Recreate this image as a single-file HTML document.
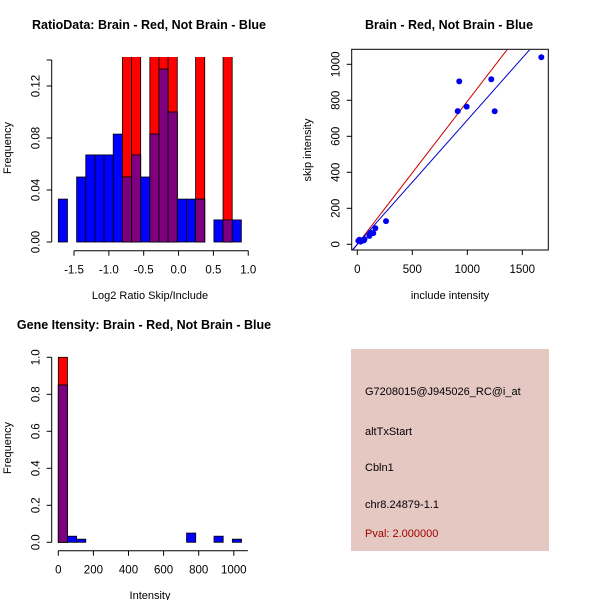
<!DOCTYPE html>
<html><head><meta charset="utf-8"><style>
body{margin:0;background:#fff}
svg{display:block;font-family:"Liberation Sans",sans-serif}
</style></head><body>
<svg id="s" width="600" height="600" xmlns="http://www.w3.org/2000/svg">
<defs><clipPath id="c1"><rect x="40" y="57" width="220" height="200"/></clipPath>
<clipPath id="c2"><rect x="352" y="50" width="196" height="200"/></clipPath></defs>
<text x="149" y="29" font-size="12.5" font-weight="bold" text-anchor="middle">RatioData: Brain - Red, Not Brain - Blue</text>
<text x="150" y="299" font-size="11" text-anchor="middle">Log2 Ratio Skip/Include</text>
<text transform="translate(11,148) rotate(-90)" font-size="11" text-anchor="middle">Frequency</text>
<g id="h1" clip-path="url(#c1)"></g>
<g id="h1ax"></g>
<text x="449" y="29" font-size="12.5" font-weight="bold" text-anchor="middle">Brain - Red, Not Brain - Blue</text>
<text x="450" y="299" font-size="11" text-anchor="middle">include intensity</text>
<text transform="translate(311,150) rotate(-90)" font-size="11" text-anchor="middle">skip intensity</text>
<rect x="351.7" y="49.3" width="196.6" height="200.7" fill="none" stroke="#000"/>
<g id="sc"></g>
<text x="144" y="329" font-size="12.5" font-weight="bold" text-anchor="middle">Gene Itensity: Brain - Red, Not Brain - Blue</text>
<text x="150" y="599" font-size="11" text-anchor="middle">Intensity</text>
<text transform="translate(11,448) rotate(-90)" font-size="11" text-anchor="middle">Frequency</text>
<g id="h2"></g>
<rect x="351" y="349" width="198" height="202" fill="#e5c8c2"/>
<g font-size="11">
<text x="365" y="395">G7208015@J945026_RC@i_at</text>
<text x="365" y="435">altTxStart</text>
<text x="365" y="471">Cbln1</text>
<text x="365" y="508">chr8.24879-1.1</text>
<text x="365" y="537" fill="#a00000">Pval: 2.000000</text>
</g>
</svg>
<script>
const NS="http://www.w3.org/2000/svg";
const ratioStart=-1.725, ratioStep=0.1313;
const ratioBlue=[0.033,0,0.05,0.067,0.067,0.067,0.083,0.05,0.067,0.05,0.083,0.133,0.1,0.033,0.033,0.033,0,0.017,0.017,0.017];
const ratioRed=[0,0,0,0,0,0,0,0.2,0.2,0,0.2,0.2,0.2,0,0,0.2,0,0,0.2,0];
const ratioXTicks=[-1.5,-1.0,-0.5,0.0,0.5,1.0];
const ratioYTicks=[0,0.04,0.08,0.12];
const ratioYLabels=["0.00","0.04","0.08","0.12"];
const intStep=52.2;
const intBlue=[0.85,0.033,0.017,0,0,0,0,0,0,0,0,0,0,0,0.05,0,0,0.033,0,0.017];
const intRed=[1.0,0,0,0,0,0,0,0,0,0,0,0,0,0,0,0,0,0,0,0];
const intXTicks=[0,200,400,600,800,1000];
const intYTicks=[0,0.2,0.4,0.6,0.8,1.0];
const scX=[10,15,20,30,40,60,65,110,120,145,164,261,913,927,994,1218,1249,1673];
const scY=[20,18,25,15,20,22,28,47,65,62,89,129,740,905,765,917,739,1039];
const scXTicks=[0,500,1000,1500];
const scYTicks=[0,200,400,600,800,1000];
const redSlope=0.794, blueSlope=0.69;

function el(p,t,a){const e=document.createElementNS(NS,t);for(const k in a)e.setAttribute(k,a[k]);p.appendChild(e);return e;}
function hist(g,ax,start,step,blue,red,xs,ys,xTicks,yTicks,xLabels,yLabels,axisY,axLeft,prefix){
  for(let i=0;i<blue.length;i++){
    const x0=xs(start+i*step),x1=xs(start+(i+1)*step);
    const r=red[i],b=blue[i],m=Math.min(r,b);
    if(r>0){const e=el(g,'rect',{x:x0,y:ys(r),width:x1-x0,height:ys(0)-ys(r),fill:'#ff0000',stroke:'#000','stroke-width':0.8});
      
      }
    if(b>0){const e=el(g,'rect',{x:x0,y:ys(b),width:x1-x0,height:ys(0)-ys(b),fill:'#0000ff',stroke:'#000','stroke-width':0.8});
      
      }
    if(m>0){const e=el(g,'rect',{x:x0,y:ys(m),width:x1-x0,height:ys(0)-ys(m),fill:'#7f007f',stroke:'#000','stroke-width':0.8});
      
      }
  }
  el(ax,'line',{x1:xs(xTicks[0]),x2:xs(xTicks[xTicks.length-1]),y1:axisY,y2:axisY,stroke:'#000'});
  xTicks.forEach((v,i)=>{el(ax,'line',{x1:xs(v),x2:xs(v),y1:axisY,y2:axisY+5,stroke:'#000'});
    const t=el(ax,'text',{x:xs(v),y:axisY+23,'font-size':11.5,'text-anchor':'middle'});t.textContent=xLabels[i];
    
    });
  el(ax,'line',{x1:axLeft,x2:axLeft,y1:ys(yTicks[0]),y2:ys(yTicks[yTicks.length-1]),stroke:'#000'});
  yTicks.forEach((v,i)=>{el(ax,'line',{x1:axLeft-5,x2:axLeft,y1:ys(v),y2:ys(v),stroke:'#000'});
    const t=el(ax,'text',{transform:`translate(${axLeft-12},${ys(v)}) rotate(-90)`,'font-size':11.5,'text-anchor':'middle'});t.textContent=yLabels[i];
    
    });
}
const rX=v=>74+(v+1.5)*69.7, rY=v=>242-v*1300;
const h1ax=document.getElementById('h1ax');
hist(document.getElementById('h1'),h1ax,ratioStart,ratioStep,ratioBlue,ratioRed,rX,rY,ratioXTicks,ratioYTicks,ratioXTicks.map(v=>v.toFixed(1)),ratioYLabels,250.7,51.7,'ratio');
el(h1ax,'line',{x1:51.7,x2:51.7,y1:rY(0.12),y2:rY(0.14),stroke:'#000'});
el(h1ax,'line',{x1:46.7,x2:51.7,y1:rY(0.14),y2:rY(0.14),stroke:'#000'});
const iX=v=>58.3+v*0.1755, iY=v=>542.3-v*185;
const h2=document.getElementById('h2');
hist(h2,h2,0,intStep,intBlue,intRed,iX,iY,intXTicks,intYTicks,intXTicks.map(String),intYTicks.map(v=>v.toFixed(1)),550.7,51.7,'intensity');
el(h2,'line',{x1:iX(1000),x2:iX(1080),y1:550.7,y2:550.7,stroke:'#000'});
const sX=v=>357.3+v*0.11, sY=v=>244.3-v*0.18;
const sc=document.getElementById('sc');
const lg=el(sc,'g',{'clip-path':'url(#c2)'});
let ln=el(lg,'line',{x1:sX(-100),y1:sY(-100*redSlope),x2:sX(2000),y2:sY(2000*redSlope),stroke:'#cc0000'});


ln=el(lg,'line',{x1:sX(-100),y1:sY(-100*blueSlope),x2:sX(2000),y2:sY(2000*blueSlope),stroke:'#0000cc'});


scX.forEach((v,i)=>{const c=el(sc,'circle',{cx:sX(v),cy:sY(scY[i]),r:3,fill:'#0000ee'});
  
  });
el(sc,'line',{x1:sX(0),x2:sX(1500),y1:250,y2:250,stroke:'#000'});
scXTicks.forEach(v=>{el(sc,'line',{x1:sX(v),x2:sX(v),y1:250,y2:255,stroke:'#000'});
  const t=el(sc,'text',{x:sX(v),y:273,'font-size':11.5,'text-anchor':'middle'});t.textContent=v;
  
  });
scYTicks.forEach(v=>{el(sc,'line',{x1:346.7,x2:351.7,y1:sY(v),y2:sY(v),stroke:'#000'});
  const t=el(sc,'text',{transform:`translate(${339.7},${sY(v)}) rotate(-90)`,'font-size':11.5,'text-anchor':'middle'});t.textContent=v;
  
  });
</script>
</body></html>
